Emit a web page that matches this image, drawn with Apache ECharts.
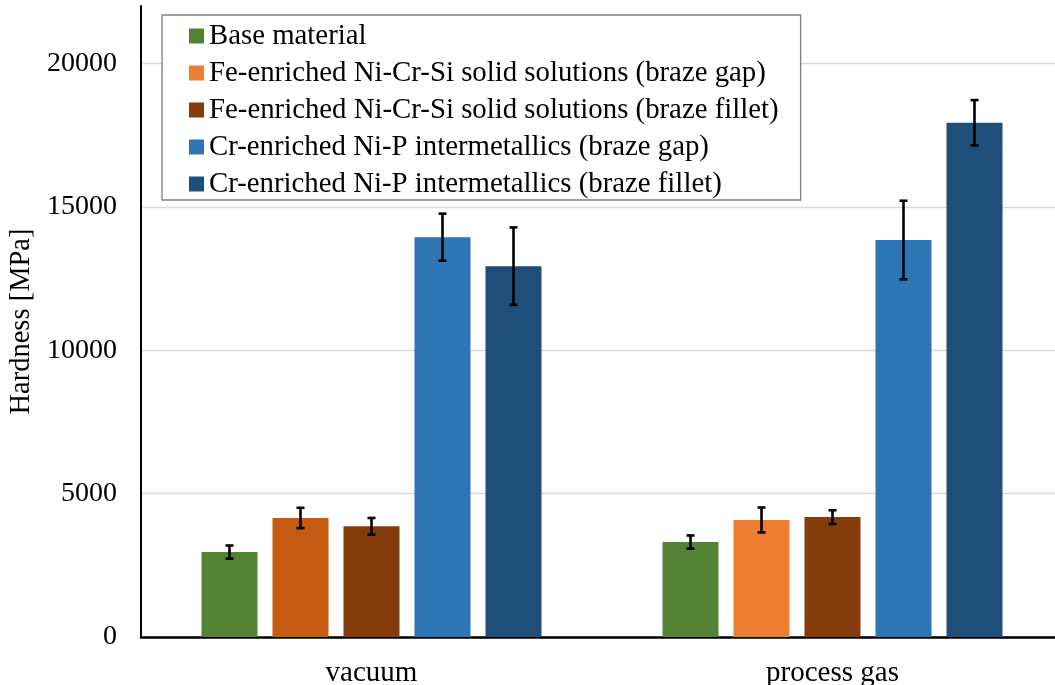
<!DOCTYPE html>
<html>
<head>
<meta charset="utf-8">
<script src="https://cdn.jsdelivr.net/npm/echarts@6/dist/echarts.min.js"></script>
<style>
html,body{margin:0;padding:0;background:#fff;}
#chart{width:1055px;height:685px;}
</style>
</head>
<body>
<div id="chart"></div>
<script>
const categories = ['vacuum', 'process gas'];
const seriesNames = [
  'Base material',
  'Fe-enriched Ni-Cr-Si solid solutions (braze gap)',
  'Fe-enriched Ni-Cr-Si solid solutions (braze fillet)',
  'Cr-enriched Ni-P intermetallics (braze gap)',
  'Cr-enriched Ni-P intermetallics (braze fillet)'
];
const baseMaterial = [2960, 3310];
const baseMaterialErr = [230, 230];
const feGap = [4150, 4080];
const feGapErr = [355, 435];
const feFillet = [3860, 4180];
const feFilletErr = [290, 240];
const crGap = [13940, 13840];
const crGapErr = [820, 1370];
const crFillet = [12930, 17930];
const crFilletErr = [1350, 790];
const yTicks = [0, 5000, 10000, 15000, 20000];

const values = [baseMaterial, feGap, feFillet, crGap, crFillet];
const errors = [baseMaterialErr, feGapErr, feFilletErr, crGapErr, crFilletErr];
const colors = ['#548235', '#ED7D31', '#843C0C', '#2E75B6', '#1F4E79'];
const pointColors = [[null, null], ['#C55A11', null], [null, null], [null, null], [null, null]];

const FONT = '"Liberation Serif", "Times New Roman", serif';
const BAR_W = 56, BAR_GAP = 15;

const chart = echarts.init(document.getElementById('chart'));

const series = [];
values.forEach((vals, k) => {
  series.push({
    name: seriesNames[k],
    type: 'bar',
    barWidth: BAR_W,
    barGap: (BAR_GAP / BAR_W * 100) + '%',
    itemStyle: { color: colors[k] },
    data: vals.map((v, i) => pointColors[k][i] ? { value: v, itemStyle: { color: pointColors[k][i] } } : v),
    z: 2
  });
});
values.forEach((vals, k) => {
  series.push({
    type: 'custom',
    name: 'err' + k,
    z: 5,
    data: vals.map((v, i) => [i, v - errors[k][i], v + errors[k][i]]),
    renderItem: function (params, api) {
      const off = (k - 2) * (BAR_W + BAR_GAP);
      const lo = api.coord([api.value(0), api.value(1)]);
      const hi = api.coord([api.value(0), api.value(2)]);
      const x = lo[0] + off;
      const cw = 4;
      const st = { stroke: '#000', lineWidth: 2.6 };
      return {
        type: 'group',
        children: [
          { type: 'line', shape: { x1: x, y1: lo[1], x2: x, y2: hi[1] }, style: st },
          { type: 'line', shape: { x1: x - cw, y1: lo[1], x2: x + cw, y2: lo[1] }, style: st },
          { type: 'line', shape: { x1: x - cw, y1: hi[1], x2: x + cw, y2: hi[1] }, style: st }
        ]
      };
    }
  });
});

chart.setOption({
  animation: false,
  backgroundColor: '#fff',
  textStyle: { fontFamily: FONT },
  grid: { left: 141, top: 6, bottom: 48, width: 922, containLabel: false, outerBoundsMode: 'none' },
  legend: {
    data: seriesNames,
    orient: 'vertical',
    left: 162,
    top: 15,
    itemWidth: 15,
    itemHeight: 15,
    itemGap: 7,
    icon: 'rect',
    padding: [6, 22, 1, 27],
    backgroundColor: '#fff',
    borderColor: '#7f7f7f',
    borderWidth: 1.3,
    borderRadius: 0,
    z: 10,
    textStyle: { fontFamily: FONT, fontSize: 28.8, color: '#000', lineHeight: 30 }
  },
  xAxis: {
    type: 'category',
    data: categories,
    axisLine: { show: true, lineStyle: { color: '#000', width: 2.5 } },
    axisTick: { show: false },
    axisLabel: { fontFamily: FONT, fontSize: 29, color: '#000', margin: 22 }
  },
  yAxis: {
    type: 'value',
    min: 0,
    max: 22000,
    interval: 5000,
    name: 'Hardness [MPa]',
    nameLocation: 'middle',
    nameGap: 96,
    nameRotate: 90,
    nameTextStyle: { fontFamily: FONT, fontSize: 28.5, color: '#000' },
    axisLine: { show: true, lineStyle: { color: '#000', width: 2 } },
    axisTick: { show: false },
    axisLabel: {
      fontFamily: FONT, fontSize: 28, color: '#000', margin: 24,
      showMaxLabel: false,
      formatter: v => yTicks.includes(v) ? String(v) : ''
    },
    splitLine: { show: true, showMaxLine: false, lineStyle: { color: '#d9d9d9', width: 1.3 } }
  },
  series: series
});
</script>
</body>
</html>
